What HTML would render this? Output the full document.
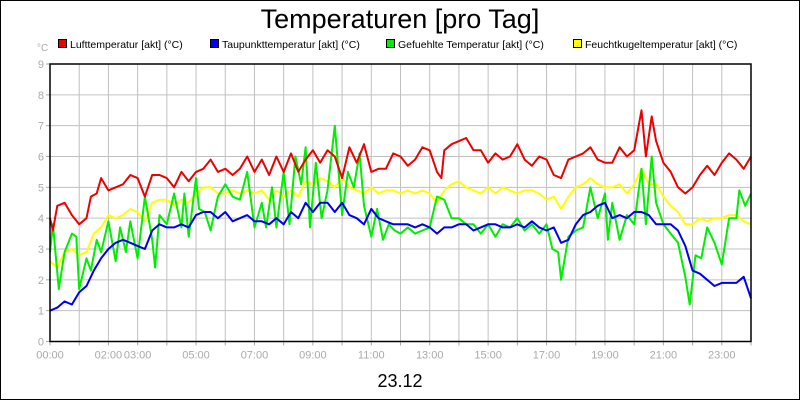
<!DOCTYPE html>
<html><head><meta charset="utf-8"><style>
html,body{margin:0;padding:0;background:#fff}
svg{display:block;font-family:"Liberation Sans",sans-serif}
</style></head><body>
<svg id="c" width="800" height="400">
<rect x="0.5" y="0.5" width="799" height="399" fill="#fff" stroke="#000"/>
<text x="400" y="28" font-size="27" text-anchor="middle">Temperaturen [pro Tag]</text>
<text x="37" y="51" font-size="10" fill="#aaa">°C</text>
<g id="legend" font-size="10.5"></g>
<g id="grid"></g>
<g id="series"></g>
<g id="axes"></g>
<text x="400" y="387" font-size="18" text-anchor="middle">23.12</text>
</svg>
<script>
const yTicks=[0,1,2,3,4,5,6,7,8,9];
const xTickHours=[0,2,3,5,7,9,11,13,15,17,19,21,23];
const xTickLabels=["00:00","02:00","03:00","05:00","07:00","09:00","11:00","13:00","15:00","17:00","19:00","21:00","23:00"];
const seriesNames=["Lufttemperatur [akt] (°C)","Taupunkttemperatur [akt] (°C)","Gefuehlte Temperatur [akt] (°C)","Feuchtkugeltemperatur [akt] (°C)"];
const redHours=[0,0.1,0.25,0.5,0.75,1,1.25,1.4,1.6,1.75,2,2.25,2.5,2.75,3,3.25,3.5,3.75,4,4.25,4.5,4.75,5,5.25,5.5,5.75,6,6.25,6.5,6.75,7,7.25,7.5,7.75,8,8.25,8.5,8.75,9,9.25,9.5,9.75,10,10.25,10.5,10.75,11,11.25,11.5,11.75,12,12.25,12.5,12.75,13,13.25,13.4,13.5,13.75,14,14.25,14.5,14.75,15,15.25,15.5,15.75,16,16.25,16.5,16.75,17,17.25,17.5,17.75,18,18.25,18.5,18.75,19,19.25,19.5,19.75,20,20.25,20.4,20.6,20.75,21,21.25,21.5,21.75,22,22.25,22.5,22.75,23,23.25,23.5,23.75,24];
const redValues=[4.0,3.6,4.4,4.5,4.1,3.8,4.0,4.7,4.8,5.3,4.9,5.0,5.1,5.4,5.3,4.7,5.4,5.4,5.3,5.0,5.5,5.2,5.5,5.6,5.9,5.5,5.6,5.4,5.6,6.0,5.5,5.9,5.4,6.0,5.5,6.1,5.5,5.9,6.2,5.8,6.2,6.0,5.3,6.3,5.8,6.4,5.5,5.6,5.6,6.1,6.0,5.7,5.9,6.3,6.2,5.5,5.3,6.2,6.4,6.5,6.6,6.2,6.2,5.8,6.1,5.9,6.0,6.4,5.9,5.7,6.0,5.9,5.4,5.3,5.9,6.0,6.1,6.3,5.9,5.8,5.8,6.3,6.0,6.2,7.5,6.0,7.3,6.5,5.8,5.5,5.0,4.8,5.0,5.4,5.7,5.4,5.8,6.1,5.9,5.6,6.0];
const blueHours=[0,0.25,0.5,0.75,1,1.25,1.5,1.75,2,2.25,2.5,2.75,3,3.25,3.5,3.75,4,4.25,4.5,4.75,5,5.25,5.5,5.75,6,6.25,6.5,6.75,7,7.25,7.5,7.75,8,8.25,8.5,8.75,9,9.25,9.5,9.75,10,10.25,10.5,10.75,11,11.25,11.5,11.75,12,12.25,12.5,12.75,13,13.25,13.5,13.75,14,14.25,14.5,14.75,15,15.25,15.5,15.75,16,16.25,16.5,16.75,17,17.25,17.5,17.75,18,18.25,18.5,18.75,19,19.25,19.5,19.75,20,20.25,20.5,20.75,21,21.25,21.5,21.75,22,22.25,22.5,22.75,23,23.25,23.5,23.75,24];
const blueValues=[1.0,1.1,1.3,1.2,1.6,1.8,2.3,2.7,3.0,3.2,3.3,3.2,3.1,3.0,3.6,3.8,3.7,3.7,3.8,3.7,4.1,4.2,4.2,4.0,4.2,3.9,4.0,4.1,3.9,3.9,3.8,4.0,3.8,4.2,4.0,4.5,4.2,4.5,4.5,4.2,4.5,4.1,4.0,3.8,4.3,4.0,3.9,3.8,3.8,3.8,3.7,3.8,3.7,3.5,3.7,3.7,3.8,3.8,3.6,3.7,3.8,3.8,3.7,3.7,3.8,3.7,3.9,3.7,3.6,3.7,3.2,3.3,3.8,4.1,4.2,4.4,4.5,4.0,4.1,4.0,4.2,4.2,4.1,3.8,3.8,3.8,3.6,3.1,2.3,2.2,2.0,1.8,1.9,1.9,1.9,2.1,1.4];
const yellowHours=[0,0.25,0.5,0.75,1,1.25,1.5,1.75,2,2.25,2.5,2.75,3,3.25,3.5,3.75,4,4.25,4.5,4.75,5,5.25,5.5,5.75,6,6.25,6.5,6.75,7,7.25,7.5,7.75,8,8.25,8.5,8.75,9,9.25,9.5,9.75,10,10.25,10.5,10.75,11,11.25,11.5,11.75,12,12.25,12.5,12.75,13,13.25,13.5,13.75,14,14.25,14.5,14.75,15,15.25,15.5,15.75,16,16.25,16.5,16.75,17,17.25,17.5,17.75,18,18.25,18.5,18.75,19,19.25,19.5,19.75,20,20.25,20.5,20.75,21,21.25,21.5,21.75,22,22.25,22.5,22.75,23,23.25,23.5,23.75,24];
const yellowValues=[2.6,2.4,2.9,3.0,2.8,2.9,3.5,3.7,4.1,4.0,4.1,4.3,4.2,3.9,4.5,4.6,4.6,4.4,4.6,4.5,4.8,5.0,5.0,4.8,4.8,4.9,4.8,4.9,4.8,4.9,4.6,4.9,4.7,4.9,4.7,5.2,5.1,5.3,5.2,5.0,5.3,5.0,4.9,4.8,5.0,4.8,4.9,4.9,4.8,4.9,4.8,4.9,4.8,4.5,4.9,5.1,5.2,5.0,4.9,4.8,5.0,4.8,5.0,4.9,4.8,4.9,4.9,4.8,4.6,4.7,4.3,4.7,5.0,5.1,5.3,5.1,5.0,5.0,5.1,4.8,5.1,5.6,5.1,5.1,4.7,4.4,4.2,3.8,3.8,4.0,3.9,4.0,4.0,4.1,4.1,3.9,3.8];
const greenHours=[0,0.1,0.3,0.5,0.75,0.9,1,1.25,1.4,1.6,1.75,2,2.25,2.4,2.6,2.75,3,3.25,3.5,3.6,3.75,4,4.25,4.5,4.6,4.75,5,5.1,5.3,5.5,5.75,6,6.25,6.5,6.75,7,7.25,7.4,7.6,7.75,8,8.2,8.4,8.6,8.75,8.9,9.1,9.3,9.5,9.75,10,10.2,10.4,10.6,10.75,11,11.2,11.4,11.6,11.8,12,12.25,12.5,12.75,13,13.25,13.5,13.75,14,14.25,14.5,14.75,15,15.25,15.5,15.75,16,16.25,16.5,16.75,17,17.2,17.4,17.5,17.75,18,18.25,18.5,18.75,19,19.1,19.25,19.5,19.75,20,20.25,20.4,20.6,20.75,21,21.25,21.5,21.75,21.9,22.1,22.3,22.5,22.75,23,23.25,23.5,23.6,23.8,24];
const greenValues=[2.9,3.8,1.7,2.9,3.5,3.4,1.7,2.7,2.3,3.3,2.9,3.9,2.6,3.7,2.9,3.9,2.7,4.7,3.3,2.4,4.1,3.8,4.8,3.7,4.8,3.4,5.3,4.3,4.2,3.6,4.7,5.1,4.7,4.6,5.5,3.7,4.5,3.7,5.0,3.7,5.5,3.8,6.0,5.1,6.3,3.7,5.8,4.0,4.9,7.0,4.1,5.5,5.0,6.1,4.4,3.4,4.3,3.3,3.8,3.6,3.5,3.7,3.5,3.6,3.7,4.7,4.6,4.0,4.0,3.8,3.8,3.5,3.8,3.4,3.8,3.7,4.0,3.6,3.8,3.5,3.8,3.0,2.9,2.0,3.4,3.6,3.7,5.0,4.0,4.8,3.3,4.5,3.3,4.1,3.8,5.6,3.8,6.0,4.5,3.8,3.5,3.2,2.1,1.2,2.8,2.7,3.7,3.2,2.5,4.0,4.0,4.9,4.4,4.8];

const NS="http://www.w3.org/2000/svg";
const X0=50,X1=751,Y0=341.5,Y9=64;
function xs(h){return X0+(X1-X0)*h/24;}
function ys(v){return Y0-(Y0-Y9)*v/9;}
function mk(tag,attrs,parent){const e=document.createElementNS(NS,tag);for(const k in attrs)e.setAttribute(k,attrs[k]);parent.appendChild(e);return e;}
const grid=document.getElementById('grid'),axes=document.getElementById('axes'),series=document.getElementById('series'),legend=document.getElementById('legend');
for(let h=1;h<24;h++){const l=mk('line',{x1:xs(h),x2:xs(h),y1:Y9,y2:Y0,stroke:'#c0c0c0','stroke-width':1},grid);

}
yTicks.forEach(v=>{if(v>0&&v<9){const l=mk('line',{x1:X0,x2:X1,y1:ys(v),y2:ys(v),stroke:'#c0c0c0','stroke-width':1},grid);

}
const t=mk('text',{x:X0-6,y:ys(v)+4,'font-size':11,fill:'#aaa','text-anchor':'end'},axes);t.textContent=v;


const tk=mk('line',{x1:X0-4,x2:X0,y1:ys(v),y2:ys(v),stroke:'#aaa'},axes);

});
for(let h=0;h<=24;h++){const tk=mk('line',{x1:xs(h),x2:xs(h),y1:Y0,y2:Y0+4,stroke:'#aaa'},axes);

}
xTickHours.forEach((h,i)=>{const t=mk('text',{x:xs(h),y:Y0+17,'font-size':11,fill:'#aaa','text-anchor':'middle'},axes);t.textContent=xTickLabels[i];

});
const fr=mk('rect',{x:X0,y:Y9,width:X1-X0,height:Y0-Y9,fill:'none',stroke:'#000','stroke-width':1.5},axes);


const sdata=[[yellowHours,yellowValues,'#ffff00','yellow-series'],[greenHours,greenValues,'#00ee00','green-series'],[redHours,redValues,'#ee0000','red-series'],[blueHours,blueValues,'#0000ee','blue-series']];
sdata.forEach(s=>{const d=s[0].map((h,i)=>(i?'L':'M')+xs(h).toFixed(1)+','+ys(s[1][i]).toFixed(1)).join('');
const p=mk('path',{d:d,fill:'none',stroke:s[2],'stroke-width':2,'stroke-linejoin':'round'},series);

});
const lcol=['#ee0000','#0000ee','#00ee00','#ffff00'],lx=[58,210,386,573];
seriesNames.forEach((n,i)=>{const r=mk('rect',{x:lx[i]+0.5,y:39.5,width:8,height:8,fill:lcol[i],stroke:'#000'},legend);


const t=mk('text',{x:lx[i]+12,y:48},legend);t.textContent=n;

});
</script>
</body></html>
